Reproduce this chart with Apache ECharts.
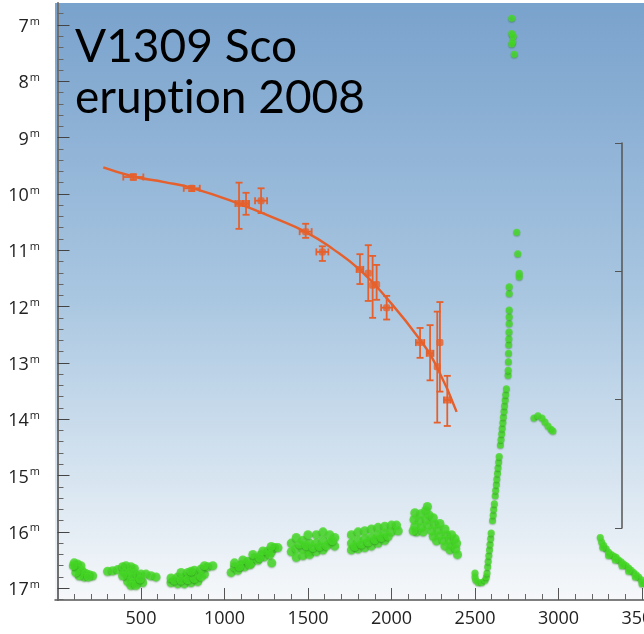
<!DOCTYPE html>
<html>
<head>
<meta charset="utf-8">
<script src="https://cdn.jsdelivr.net/npm/echarts@6/dist/echarts.min.js"></script>
<style>
  html, body { margin: 0; padding: 0; background: #ffffff; }
  #chart { width: 644px; height: 634px; }
</style>
</head>
<body>
<div id="chart"></div>
<script>
// Axis ticks: magnitudes (inverted scale) and days
const magTicks = [7, 8, 9, 10, 11, 12, 13, 14, 15, 16, 17];
const magMinorTicks = [6.8, 7.2, 7.4, 7.6, 7.8, 8.2, 8.4, 8.6, 8.8, 9.2, 9.4, 9.6, 9.8,
  10.2, 10.4, 10.6, 10.8, 11.2, 11.4, 11.6, 11.8, 12.2, 12.4, 12.6, 12.8,
  13.2, 13.4, 13.6, 13.8, 14.2, 14.4, 14.6, 14.8, 15.2, 15.4, 15.6, 15.8,
  16.2, 16.4, 16.6, 16.8, 17.2];
const dayTicks = [500, 1000, 1500, 2000, 2500, 3000, 3500];
const dayMinorTicks = [100, 200, 300, 400, 600, 700, 800, 900, 1100, 1200, 1300, 1400,
  1600, 1700, 1800, 1900, 2100, 2200, 2300, 2400, 2600, 2700, 2800, 2900,
  3100, 3200, 3300, 3400];

// Pre-eruption dimming of the progenitor: fitted trend
const fitDays = [274, 454, 640, 813, 1083, 1300, 1482, 1650, 1811, 1971, 2171, 2271, 2390];
const fitMag  = [9.53, 9.69, 9.79, 9.90, 10.17, 10.43, 10.67, 10.98, 11.35, 11.85, 12.59, 13.07, 13.87];

// Archival measurements with error bars
const obsDays    = [454, 804, 1087, 1129, 1219, 1486, 1586, 1811, 1861, 1887, 1911, 1971, 2171, 2231, 2274, 2290, 2334];
const obsMag     = [9.70, 9.90, 10.17, 10.17, 10.12, 10.67, 11.03, 11.34, 11.41, 11.62, 11.61, 12.02, 12.64, 12.83, 13.07, 12.64, 13.66];
const obsMagLow  = [9.65, 9.86, 9.80, 9.98, 9.90, 10.53, 10.93, 11.07, 10.91, 11.10, 11.26, 11.81, 12.38, 12.33, 12.09, 11.92, 13.23];
const obsMagHigh = [9.75, 9.95, 10.62, 10.37, 10.34, 10.78, 11.19, 11.60, 11.90, 12.20, 11.88, 12.23, 12.91, 13.31, 14.06, 13.51, 14.12];
const obsDayErr  = [60, 48, 22, 18, 36, 36, 36, 20, 0, 0, 0, 33, 25, 20, 0, 0, 20];

// Survey photometry: quiescent groups before the outburst [day, mag]
const quiet1 = [[100,16.55],[120,16.57],[140,16.6],[110,16.62],[130,16.66],[150,16.7],[170,16.74],[190,16.76],[210,16.78],[160,16.8],[130,16.78],[110,16.72],[95,16.6],[185,16.8]];
const quiet2 = [[300,16.7],[330,16.69],[360,16.67],[390,16.62],[410,16.6],[440,16.62],[460,16.65],[400,16.72],[430,16.72],[460,16.73],[420,16.8],[450,16.8],[480,16.78],[420,16.88],[450,16.9],[480,16.9],[510,16.9],[500,16.75],[530,16.75],[560,16.78],[590,16.8],[440,16.95],[470,16.95],[495,16.84],[390,16.78]];
const quiet3 = [[680,16.9],[720,16.92],[760,16.92],[800,16.9],[840,16.88],[680,16.82],[720,16.8],[760,16.8],[800,16.78],[840,16.75],[880,16.75],[740,16.72],[780,16.72],[820,16.68],[860,16.66],[900,16.62],[930,16.6],[880,16.6],[700,16.86],[740,16.86],[780,16.85],[820,16.83],[860,16.8],[800,16.7]];
const quiet4 = [[1040,16.72],[1060,16.62],[1080,16.68],[1100,16.58],[1120,16.62],[1140,16.52],[1160,16.56],[1180,16.46],[1200,16.5],[1220,16.4],[1240,16.44],[1260,16.34],[1280,16.36],[1300,16.28],[1320,16.28],[1280,16.26],[1230,16.34],[1170,16.4],[1110,16.5],[1060,16.55],[1283,16.55],[1090,16.62],[1150,16.58],[1210,16.46],[1270,16.4]];
const quiet5 = [[1400,16.2],[1400,16.35],[1430,16.1],[1430,16.3],[1430,16.45],[1470,16.15],[1470,16.3],[1470,16.42],[1510,16.2],[1510,16.35],[1510,16.4],[1550,16.05],[1550,16.2],[1550,16.35],[1590,16.0],[1590,16.15],[1590,16.32],[1630,16.05],[1630,16.2],[1660,16.1],[1660,16.25],[1500,16.05],[1450,16.22],[1490,16.25],[1530,16.28],[1570,16.26],[1610,16.25],[1645,16.16]];
const quiet6 = [[1760,16.05],[1760,16.2],[1760,16.32],[1800,16.0],[1800,16.15],[1800,16.3],[1840,15.98],[1840,16.12],[1840,16.28],[1880,15.95],[1880,16.1],[1880,16.25],[1920,15.92],[1920,16.05],[1920,16.2],[1960,15.9],[1960,16.02],[1960,16.15],[2000,15.88],[2000,16.0],[2030,15.88],[2040,15.98],[1780,16.26],[1820,16.22],[1860,16.18],[1900,16.14],[1940,16.1],[1980,16.08]];
const quiet7 = [[2215,15.55],[2205,15.62],[2140,15.66],[2175,15.68],[2225,15.7],[2135,15.78],[2170,15.8],[2210,15.78],[2250,15.75],[2140,15.9],[2180,15.92],[2220,15.88],[2260,15.86],[2290,15.85],[2150,16.0],[2190,16.0],[2240,15.98],[2280,15.96],[2320,15.95],[2250,16.08],[2290,16.06],[2330,16.05],[2360,16.05],[2270,16.16],[2310,16.15],[2350,16.14],[2380,16.12],[2320,16.25],[2360,16.24],[2390,16.2],[2350,16.32],[2385,16.3],[2395,16.4],[2130,15.98]];

// Eruption: rise, maximum, decline
const riseBranch = [[2500,16.73],[2500,16.80],[2505,16.86],[2520,16.9],[2540,16.9],[2560,16.86],[2568,16.8],
  [2572,16.73],[2576,16.62],[2579,16.52],[2583,16.42],[2587,16.32],[2590,16.22],[2594,16.12],[2597,16.02],
  [2605,15.80],[2609,15.70],[2612,15.60],[2616,15.50],[2621,15.36],[2624,15.26],[2628,15.16],[2631,15.06],
  [2635,14.96],[2638,14.86],[2642,14.76],[2645,14.66],[2652,14.46],[2656,14.36],[2660,14.26],[2663,14.16],
  [2667,14.06],[2670,13.96],[2674,13.86],[2677,13.76],[2681,13.66],[2684,13.56],[2688,13.46],
  [2698,13.22],[2699,13.13],[2700,12.98],[2701,12.83],[2702,12.68],[2703,12.57],[2704,12.45],[2705,12.30],
  [2705,12.18],[2705,12.06],[2705,11.77],[2705,11.65]];
const maximum = [[2720,6.88],[2720,7.15],[2729,7.20],[2726,7.30],[2720,7.34],[2735,7.52]];
const decline = [[2750,10.68],[2756,11.06],[2765,11.41],[2765,11.47]];
const lateBump = [[2853,13.98],[2877,13.94],[2901,13.98],[2919,14.05],[2937,14.12],[2955,14.18],[2967,14.21]];
const fading = [[3250,16.1],[3258,16.18],[3270,16.24],[3285,16.3],[3300,16.36],[3315,16.4],[3330,16.43],[3345,16.45],
  [3360,16.5],[3375,16.53],[3390,16.57],[3405,16.6],[3420,16.64],[3435,16.68],[3450,16.72],[3465,16.76],
  [3480,16.8],[3495,16.85],[3508,16.9],[3265,16.28],[3300,16.42],[3340,16.5],[3380,16.6],[3420,16.7],
  [3460,16.8],[3500,16.92]];

const ORANGE = '#e5602c';
const GREEN = '#46dc26';

const chart = echarts.init(document.getElementById('chart'), null, { renderer: 'canvas' });

const obsData = obsDays.map((d, i) => [d, obsMag[i], obsMagLow[i], obsMagHigh[i], obsDayErr[i]]);
const fitData = fitDays.map((d, i) => [d, fitMag[i]]);
const quietData = [].concat(quiet1, quiet2, quiet3, quiet4, quiet5, quiet6, quiet7);
const eruptionData = [].concat(riseBranch, maximum, decline, lateBump, fading);

function renderErrorBar(params, api) {
  const x = api.value(0), y = api.value(1);
  const lo = api.value(2), hi = api.value(3), dx = api.value(4);
  const top = api.coord([x, lo]);
  const bot = api.coord([x, hi]);
  const cap = 3.5;
  const style = { stroke: ORANGE, lineWidth: 1.8 };
  const children = [
    { type: 'line', shape: { x1: top[0], y1: top[1], x2: bot[0], y2: bot[1] }, style },
    { type: 'line', shape: { x1: top[0] - cap, y1: top[1], x2: top[0] + cap, y2: top[1] }, style },
    { type: 'line', shape: { x1: bot[0] - cap, y1: bot[1], x2: bot[0] + cap, y2: bot[1] }, style }
  ];
  if (dx > 0) {
    const l = api.coord([x - dx, y]);
    const r = api.coord([x + dx, y]);
    children.push(
      { type: 'line', shape: { x1: l[0], y1: l[1], x2: r[0], y2: r[1] }, style },
      { type: 'line', shape: { x1: l[0], y1: l[1] - cap, x2: l[0], y2: l[1] + cap }, style },
      { type: 'line', shape: { x1: r[0], y1: r[1] - cap, x2: r[0], y2: r[1] + cap }, style }
    );
  }
  return { type: 'group', children };
}

const option = {
  animation: false,
  backgroundColor: '#ffffff',
  title: {
    // split into two runs so the "ti" pair is not joined into a ligature
    text: '{t|V1309 Sco}\n{t|erupt}{t|ion 2008}',
    left: 70,
    top: 17,
    textStyle: {
      rich: { t: { fontFamily: 'Lato', fontSize: 46, fontWeight: 'normal', color: '#000', lineHeight: 51 } }
    }
  },
  grid: [
    {
      left: 55, right: 0, top: 3, bottom: 34,
      outerBoundsMode: 'none',
      show: true, borderWidth: 0,
      backgroundColor: {
        type: 'linear', x: 0, y: 0, x2: 0, y2: 1,
        colorStops: [
          { offset: 0, color: '#79a2cc' },
          { offset: 0.25, color: '#91b4d7' },
          { offset: 0.5, color: '#aac7e1' },
          { offset: 0.75, color: '#d0e0ee' },
          { offset: 1, color: '#f6f8fa' }
        ]
      }
    },
    { right: 2, width: 20, top: 143, height: 385, outerBoundsMode: 'none' }
  ],
  xAxis: [
    {
      type: 'value', min: -15, max: 3512,
      axisLine: { show: true, lineStyle: { color: '#555', width: 1.5 } },
      axisTick: { show: true, inside: true, length: 12, customValues: dayTicks, lineStyle: { color: '#555', width: 1 } },
      axisLabel: {
        customValues: dayTicks, fontFamily: 'Open Sans', fontSize: 18, color: '#222', margin: 10,
        formatter: v => String(v), hideOverlap: false
      },
      splitLine: { show: false }
    },
    {
      type: 'value', min: -15, max: 3512, gridIndex: 0, position: 'bottom',
      axisLine: { show: false },
      axisTick: { show: true, inside: true, length: 6, customValues: dayMinorTicks, lineStyle: { color: '#666', width: 1 } },
      axisLabel: { show: false },
      splitLine: { show: false }
    },
    { type: 'value', gridIndex: 1, show: false }
  ],
  yAxis: [
    {
      type: 'value', inverse: true, min: 6.61, max: 17.21,
      axisLine: { show: true, lineStyle: { color: '#707070', width: 2 } },
      axisTick: { show: true, inside: true, length: 12, customValues: magTicks, lineStyle: { color: '#444', width: 1 } },
      axisLabel: {
        customValues: magTicks, margin: 15, padding: [4, 0, 0, 0],
        formatter: v => '{n|' + v + '}{s|m}',
        rich: {
          n: { fontFamily: 'Open Sans', fontSize: 18, color: '#222', lineHeight: 22 },
          s: { fontFamily: 'Open Sans', fontSize: 11, color: '#222', verticalAlign: 'top', lineHeight: 22, padding: [0, 0, 5, 1] }
        }
      },
      splitLine: { show: false }
    },
    {
      type: 'value', inverse: true, min: 6.61, max: 17.21, gridIndex: 0, position: 'left',
      axisLine: { show: false },
      axisTick: { show: true, inside: true, length: 6, customValues: magMinorTicks, lineStyle: { color: '#666', width: 1 } },
      axisLabel: { show: false },
      splitLine: { show: false }
    },
    {
      type: 'value', gridIndex: 1, position: 'right', min: 0, max: 3, interval: 1,
      axisLine: { show: true, lineStyle: { color: '#555', width: 1.5 } },
      axisTick: { show: true, inside: true, length: 7, lineStyle: { color: '#555' } },
      axisLabel: { show: false },
      splitLine: { show: false }
    }
  ],
  series: [
    {
      name: 'trend', type: 'line', data: fitData, smooth: 0.5,
      xAxisIndex: 0, yAxisIndex: 0,
      showSymbol: false, lineStyle: { color: ORANGE, width: 2.4 }, z: 3
    },
    {
      name: 'errors', type: 'custom', data: obsData, renderItem: renderErrorBar,
      xAxisIndex: 0, yAxisIndex: 0, encode: { x: 0, y: 1 }, z: 4
    },
    {
      name: 'measurements', type: 'scatter', data: obsData.map(r => [r[0], r[1]]),
      xAxisIndex: 0, yAxisIndex: 0,
      symbol: 'roundRect', symbolSize: 7, itemStyle: { color: ORANGE }, z: 5
    },
    {
      name: 'quiescence', type: 'scatter', data: quietData,
      xAxisIndex: 0, yAxisIndex: 0,
      symbol: 'circle', symbolSize: 9,
      itemStyle: { color: GREEN, shadowColor: 'rgba(20,90,10,0.45)', shadowBlur: 1.5, shadowOffsetY: 1 },
      z: 6
    },
    {
      name: 'eruption', type: 'scatter', data: eruptionData,
      xAxisIndex: 0, yAxisIndex: 0,
      symbol: 'circle', symbolSize: 7,
      itemStyle: { color: GREEN, shadowColor: 'rgba(20,90,10,0.45)', shadowBlur: 1.5, shadowOffsetY: 1 },
      z: 6
    }
  ]
};

chart.setOption(option);
</script>
</body>
</html>
